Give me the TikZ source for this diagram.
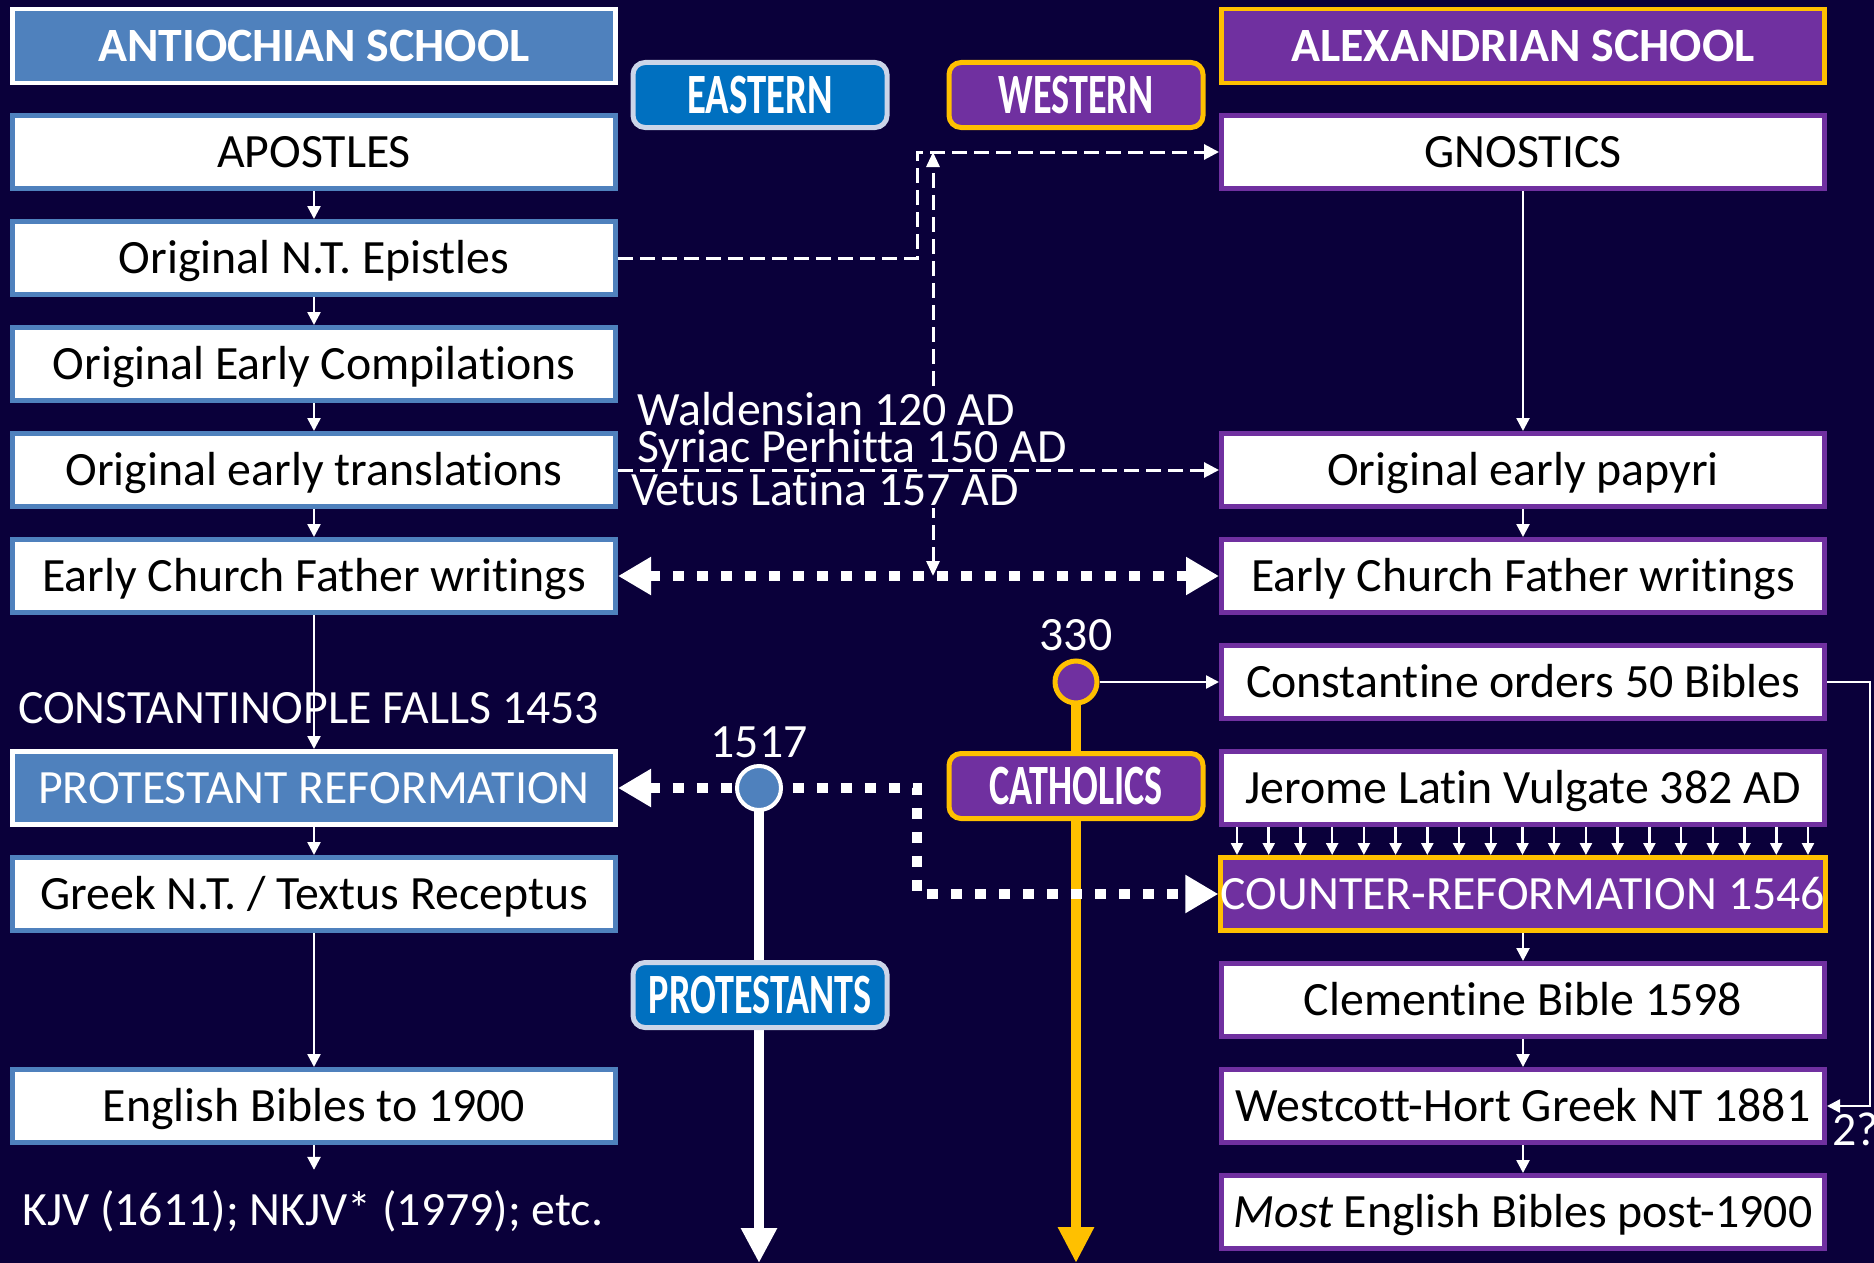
\documentclass[tikz,border=0pt]{standalone}
\usepackage{fontspec}
\setmainfont{Carlito}[Ligatures=CommonOff]
\usepackage{graphicx}
\usetikzlibrary{arrows.meta,calc}
\definecolor{bg}{RGB}{10,0,58}
\definecolor{lblue}{HTML}{4F81BD}
\definecolor{eblue}{HTML}{0070C0}
\definecolor{purp}{HTML}{7030A0}
\definecolor{gold}{HTML}{FFC000}
\definecolor{lgray}{HTML}{CCD5E8}
\pgfdeclarelayer{back}
\pgfsetlayers{back,main}
\begin{document}
\begin{tikzpicture}[x=1pt,y=-1pt,
  box/.style={line width=5pt, fill=white, minimum width=603pt, minimum height=73pt, inner sep=0pt, text height=34pt, text depth=3pt, font=\fontsize{47.8}{54}\selectfont, text=black},
  lb/.style={box, draw=lblue},
  rb/.style={box, draw=purp},
  hdr/.style={box, line width=4.5pt, minimum height=74pt, font=\fontsize{47.8}{54}\selectfont\bfseries, text=white},
  tagbox/.style={rounded corners=12pt, line width=5pt, minimum width=254pt, minimum height=65pt, inner sep=0pt, text=white, font=\fontsize{57}{60}\selectfont\bfseries},
  wtxt/.style={text=white, font=\fontsize{47.8}{54}\selectfont, inner sep=0pt},
  arr/.style={draw=white, line width=2.5pt, -{Triangle[length=13pt,width=13pt]}},
  dsh/.style={draw=white, line width=3pt, dash pattern=on 15pt off 7pt},
  dotl/.style={draw=white, line width=10pt, dash pattern=on 11pt off 13pt},
]
\begin{pgfonlayer}{back}
\fill[bg] (0,0) rectangle (1874,1263);
\end{pgfonlayer}
\useasboundingbox (0,0) rectangle (1874,1263);

\coordinate (vx) at (917,0);
\coordinate (vy) at (933,0);
\coordinate (rx) at (1870,0);
\coordinate (pend) at (759,1263);
\coordinate (cend) at (1076,1263);

% left column
\node[hdr, fill=lblue, draw=white] (antH) at (314,46) {ANTIOCHIAN SCHOOL};
\node[lb] (apo) at (314,152) {APOSTLES};
\node[lb] (epi) at (314,258) {Original N.T. Epistles};
\node[lb] (comp) at (314,364) {Original Early Compilations};
\node[lb] (trans) at (314,470) {Original early translations};
\node[lb] (ecfL) at (314,576) {Early Church Father writings};
\node[wtxt, anchor=base west] (cfall) at (18,723) {CONSTANTINOPLE FALLS 1453};
\node[lb, fill=lblue, draw=white, text=white] (prot) at (314,788) {PROTESTANT REFORMATION};
\node[lb] (greek) at (314,894) {Greek N.T. / Textus Receptus};
\node[lb] (engl) at (314,1106) {English Bibles to 1900};
\node[wtxt, anchor=base west] (kjv) at (22,1225) {KJV (1611); NKJV* (1979); etc.};

% right column
\node[hdr, fill=purp, draw=gold] (alxH) at (1523,46) {ALEXANDRIAN SCHOOL};
\node[rb] (gno) at (1523,152) {GNOSTICS};
\node[rb] (pap) at (1523,470) {Original early papyri};
\node[rb] (ecfR) at (1523,576) {Early Church Father writings};
\node[rb] (con) at (1523,682) {Constantine orders 50 Bibles};
\node[rb] (jer) at (1523,788) {Jerome Latin Vulgate 382 AD};
\node[rb, fill=purp, draw=gold, text=white] (cnt) at (1523,894) {COUNTER-REFORMATION 1546};
\node[rb] (clem) at (1523,1000) {Clementine Bible 1598};
\node[rb] (wh) at (1523,1106) {Westcott-Hort Greek NT 1881};
\node[rb] (most) at (1523,1212) {\textit{Most} English Bibles post-1900};

% tags
\node[tagbox, fill=eblue, draw=lgray] (east) at (760,95) {\scalebox{0.68}[1]{EASTERN}};
\node[tagbox, fill=purp, draw=gold] (west) at (1076,95) {\scalebox{0.67}[1]{WESTERN}};
\node[tagbox, fill=purp, draw=gold] (cath) at (1076,786) {\scalebox{0.67}[1]{CATHOLICS}};
\node[tagbox, fill=eblue, draw=lgray] (prots) at (760,995) {\scalebox{0.67}[1]{PROTESTANTS}};

% timeline circles
\node[circle, fill=lblue, draw=white, line width=4pt, minimum size=44pt, inner sep=0pt] (c1517) at (759,788) {};
\node[circle, fill=purp, draw=gold, line width=5pt, minimum size=42pt, inner sep=0pt] (c330) at (1076,682) {};
\node[wtxt, anchor=base] (y330) at (1076,650) {330};
\node[wtxt, anchor=base] (y1517) at (759,757) {1517};

\begin{pgfonlayer}{back}
\draw[white, line width=10pt, -{Triangle[length=35pt,width=34pt]}] (c1517.center) -- (pend);
\draw[gold, line width=10pt, -{Triangle[length=36pt,width=34pt]}] (c330.center) -- (cend);
\draw[dotl, {Triangle[length=33pt,width=36pt]}-{Triangle[length=33pt,width=36pt]}]
  (prot.east) -- (prot.east -| vx) -- (cnt.west -| vx) -- (cnt.west);
\draw[dotl, {Triangle[length=33pt,width=36pt]}-{Triangle[length=33pt,width=36pt]}]
  (ecfL.east) -- (ecfR.west);
\end{pgfonlayer}

% dashed connectors
\draw[dsh, -{Triangle[length=15pt,width=15pt]}] (epi.east) -- (epi.east -| vx) -- (gno.west -| vx) -- (gno.west);
\draw[dsh, {Triangle[length=15pt,width=13pt]}-{Triangle[length=15pt,width=13pt]}] (ecfL.east -| vy) -- (gno.west -| vy);
\fill[bg] (924,386) rectangle (942,508);

% early translation labels
\node[wtxt, anchor=base west] (wal) at (637,425) {Waldensian 120 AD};
\node[wtxt, anchor=base west] (syr) at (637,462) {Syriac Perhitta 150 AD};
\node[wtxt, anchor=base west] (vet) at (631,505) {Vetus Latina 157 AD};

\draw[dsh, -{Triangle[length=15pt,width=15pt]}] (trans.east) -- (pap.west);
\fill[bg] (917,466) rectangle (948,474);

% solid arrows, left
\draw[arr] (apo.south) -- (epi.north);
\draw[arr] (epi.south) -- (comp.north);
\draw[arr] (comp.south) -- (trans.north);
\draw[arr] (trans.south) -- (ecfL.north);
\draw[arr] (ecfL.south) -- (prot.north);
\draw[arr] (prot.south) -- (greek.north);
\draw[arr] (greek.south) -- (engl.north);
\draw[arr] (engl.south) -- ([yshift=20pt]engl.south |- kjv.north);

% solid arrows, right
\draw[arr] (gno.south) -- (pap.north);
\draw[arr] (pap.south) -- (ecfR.north);
\draw[arr] (cnt.south) -- (clem.north);
\draw[arr] (clem.south) -- (wh.north);
\draw[arr] (wh.south) -- (most.north);
\draw[arr] (c330.east) -- (con.west);
\foreach \k [evaluate=\k as \dx using -286+\k*31.72] in {0,...,18} {
  \draw[draw=white, line width=2.5pt, -{Triangle[length=12pt,width=12pt]}]
    ([xshift=\dx pt]jer.south) -- ([xshift=\dx pt]cnt.north);
}
\draw[arr] (con.east) -- (con.east -| rx) -- (wh.east -| rx) -- (wh.east);
\node[wtxt, anchor=base west] (q) at (1832,1145) {2?};
\end{tikzpicture}
\end{document}
